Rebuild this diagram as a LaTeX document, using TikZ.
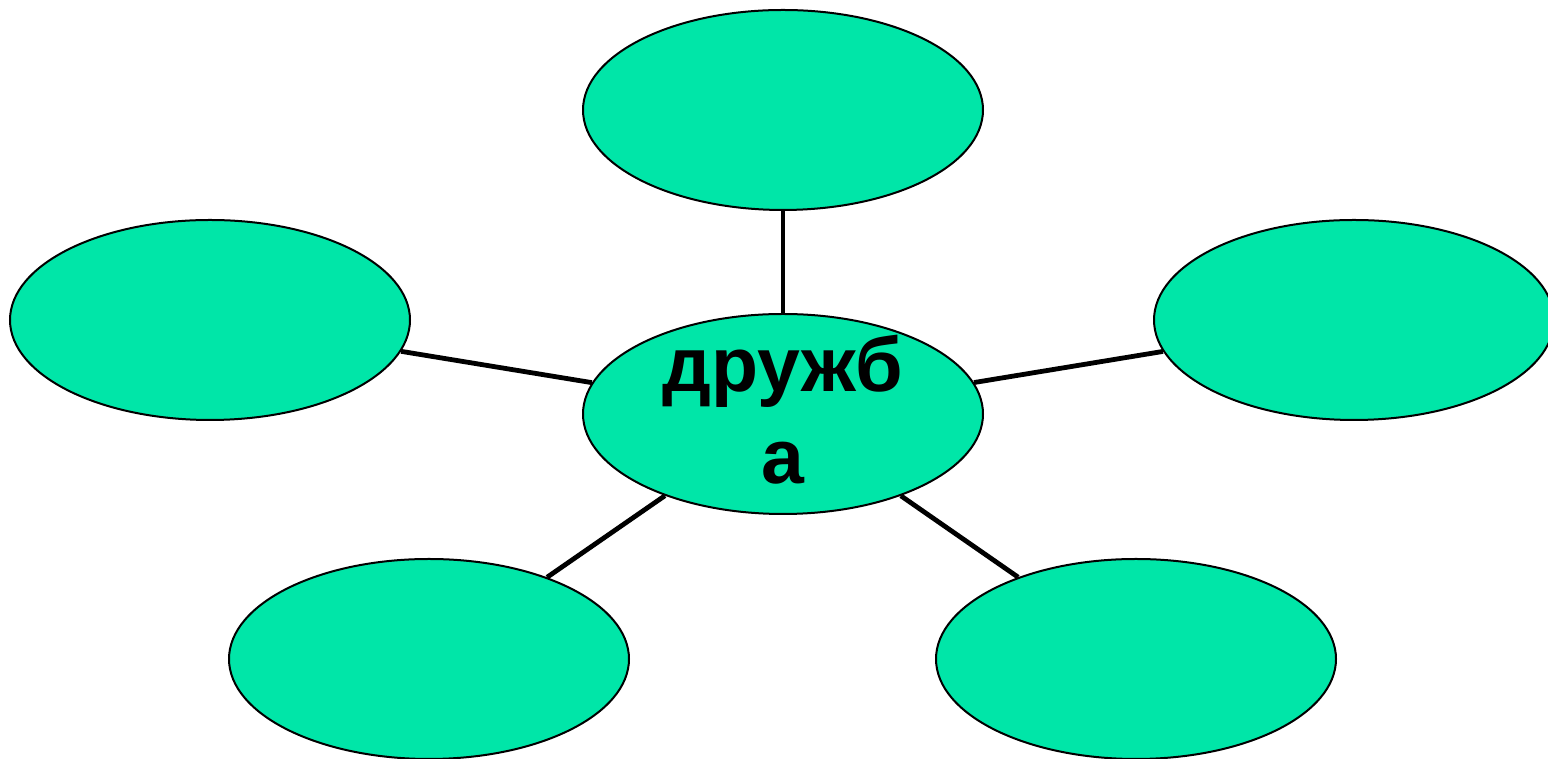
\documentclass[tikz,border=0pt]{standalone}
\usepackage{fontspec}
\setmainfont{Liberation Sans}
\usetikzlibrary{shapes.geometric}
\definecolor{mint}{RGB}{0,230,168}

\begin{document}
\begin{tikzpicture}
  [x=0.5pt,y=0.5pt,
   bubble/.style={ellipse,draw,fill=mint,line width=1pt,minimum width=200pt,minimum height=100pt,inner sep=0pt},
   word/.style={align=center,font=\fontsize{38.5}{46}\bfseries\selectfont}]
  \useasboundingbox (0,0) rectangle (1548,759);
  \node[bubble,label={[word,yshift=2pt]center:дружб\\а}] (d) at (783,345) {};
  \node[bubble] (t) at (783,649) {};
  \node[bubble] (l) at (210,439) {};
  \node[bubble] (r) at (1354,439) {};
  \node[bubble] (bl) at (429,100) {};
  \node[bubble] (br) at (1136,100) {};

  \foreach \to in {t,l,r,bl,br}
    \draw[line width=2.4pt] (d) -- (\to);
\end{tikzpicture}
\end{document}
